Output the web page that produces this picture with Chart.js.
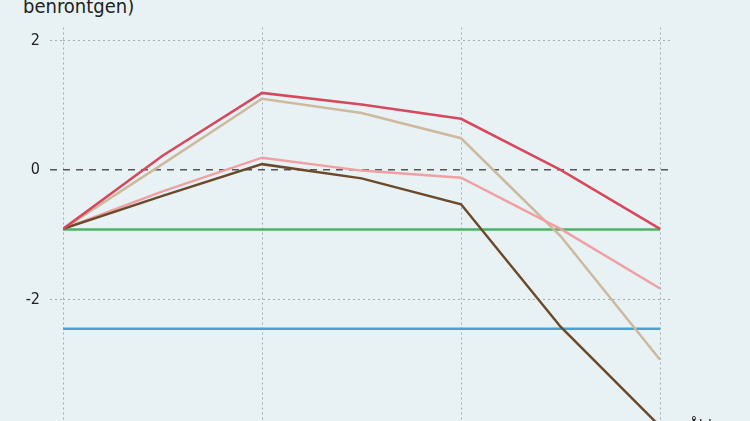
<!DOCTYPE html>
<html>
<head>
<meta charset="utf-8">
<script src="https://cdn.jsdelivr.net/npm/chart.js@4"></script>
<style>
  html, body { margin: 0; padding: 0; background: #e8f2f5; }
  #frame { position: relative; width: 750px; height: 421px; overflow: hidden; background: #e8f2f5; }
  #chartBox { position: absolute; left: 0; top: 0; width: 750px; height: 470px; }
  .txt { position: absolute; font-family: 'Liberation Sans Narrow', 'DejaVu Sans Condensed', sans-serif; color: #222; white-space: nowrap; }
  #ytitle { left: 23px; top: -4px; font-size: 20px; line-height: 20px; }
  #xtitle { left: 689px; top: 418px; font-size: 16px; line-height: 16px; }
</style>
</head>
<body>
<div id="frame">
  <div class="txt" id="ytitle">benröntgen)</div>
  <div id="chartBox"><canvas id="myChart"></canvas></div>
  <div class="txt" id="xtitle">Ålder</div>
</div>
<script>
// x-positioner (visas ej, beskurna i bilden)
const steps = [0, 1, 2, 3, 4, 5, 6];

// serier
const red   = [-0.91, 0.22, 1.19, 1.01, 0.79, 0.0, -0.91];
const tan   = [-0.91, 0.09, 1.10, 0.88, 0.49, -1.02, -2.93];
const pink  = [-0.91, -0.33, 0.19, -0.01, -0.12, -0.91, -1.83];
const brown = [-0.91, -0.40, 0.09, -0.13, -0.53, -2.42, -3.96];
const green = [-0.92, -0.92, -0.92, -0.92, -0.92, -0.92, -0.92];
const blue  = [-2.45, -2.45, -2.45, -2.45, -2.45, -2.45, -2.45];

// tick-värden
const yTicks = [-4, -2, 0, 2];
const xTicks = [0, 2, 4, 6];

function pts(arr){
	let out = [];
	for(let i = 0; i < arr.length; i++){
		out.push({ x: steps[i], y: arr[i] });
	}
	return out;
}

function line(data, color, order){
	return {
		data: pts(data),
		borderColor: color,
		borderWidth: 2.5,
		pointRadius: 0,
		tension: 0,
		fill: false,
		order: order
	};
}

const font = { family: "'Liberation Sans Narrow', 'DejaVu Sans Condensed', sans-serif", size: 16 };
const gridGray = '#a3adb1';

const ctx = document.getElementById('myChart');

new Chart(ctx, {
	type: 'line',
	data: {
		datasets: [
			line(red, '#d6485c', 1),
			line(brown, '#6b4a2b', 2),
			line(pink, '#f0a0a2', 3),
			line(tan, '#cdb99e', 4),
			line(green, '#4cb264', 5),
			line(blue, '#4aa2d4', 6)
		]
	},
	options: {
		responsive: true,
		maintainAspectRatio: false,
		animation: false,
		layout: { padding: { top: 27.5, right: 77, left: 0, bottom: 0 } },
		plugins: {
			legend: { display: false },
			tooltip: { enabled: false }
		},
		scales: {
			x: {
				type: 'linear',
				min: 0,
				max: 6.13,
				afterBuildTicks: function(scale){
					scale.ticks = xTicks.map(v => ({ value: v }));
				},
				afterFit: function(scale){ scale.height = 41; },
				ticks: { display: false },
				grid: {
					color: gridGray,
					lineWidth: 1,
					drawTicks: false
				},
				border: { display: false, dash: [2, 3] }
			},
			y: {
				min: -4,
				max: 2.2,
				afterBuildTicks: function(scale){
					scale.ticks = yTicks.map(v => ({ value: v }));
				},
				afterFit: function(scale){ scale.width = 63; },
				ticks: {
					color: '#222',
					font: font,
					padding: 10,
					callback: v => String(v)
				},
				grid: {
					color: c => c.tick && c.tick.value === 0 ? '#555' : gridGray,
					lineWidth: c => c.tick && c.tick.value === 0 ? 1.5 : 1,
					tickColor: c => c.tick && c.tick.value === 0 ? '#555' : gridGray,
					tickWidth: c => c.tick && c.tick.value === 0 ? 1.5 : 1,
					tickLength: 13,
					tickBorderDash: c => c.tick && c.tick.value === 0 ? [7, 6] : [2, 3]
				},
				border: {
					display: false,
					dash: c => c.tick && c.tick.value === 0 ? [7, 6] : [2, 3]
				}
			}
		}
	}
});
</script>
</body>
</html>
